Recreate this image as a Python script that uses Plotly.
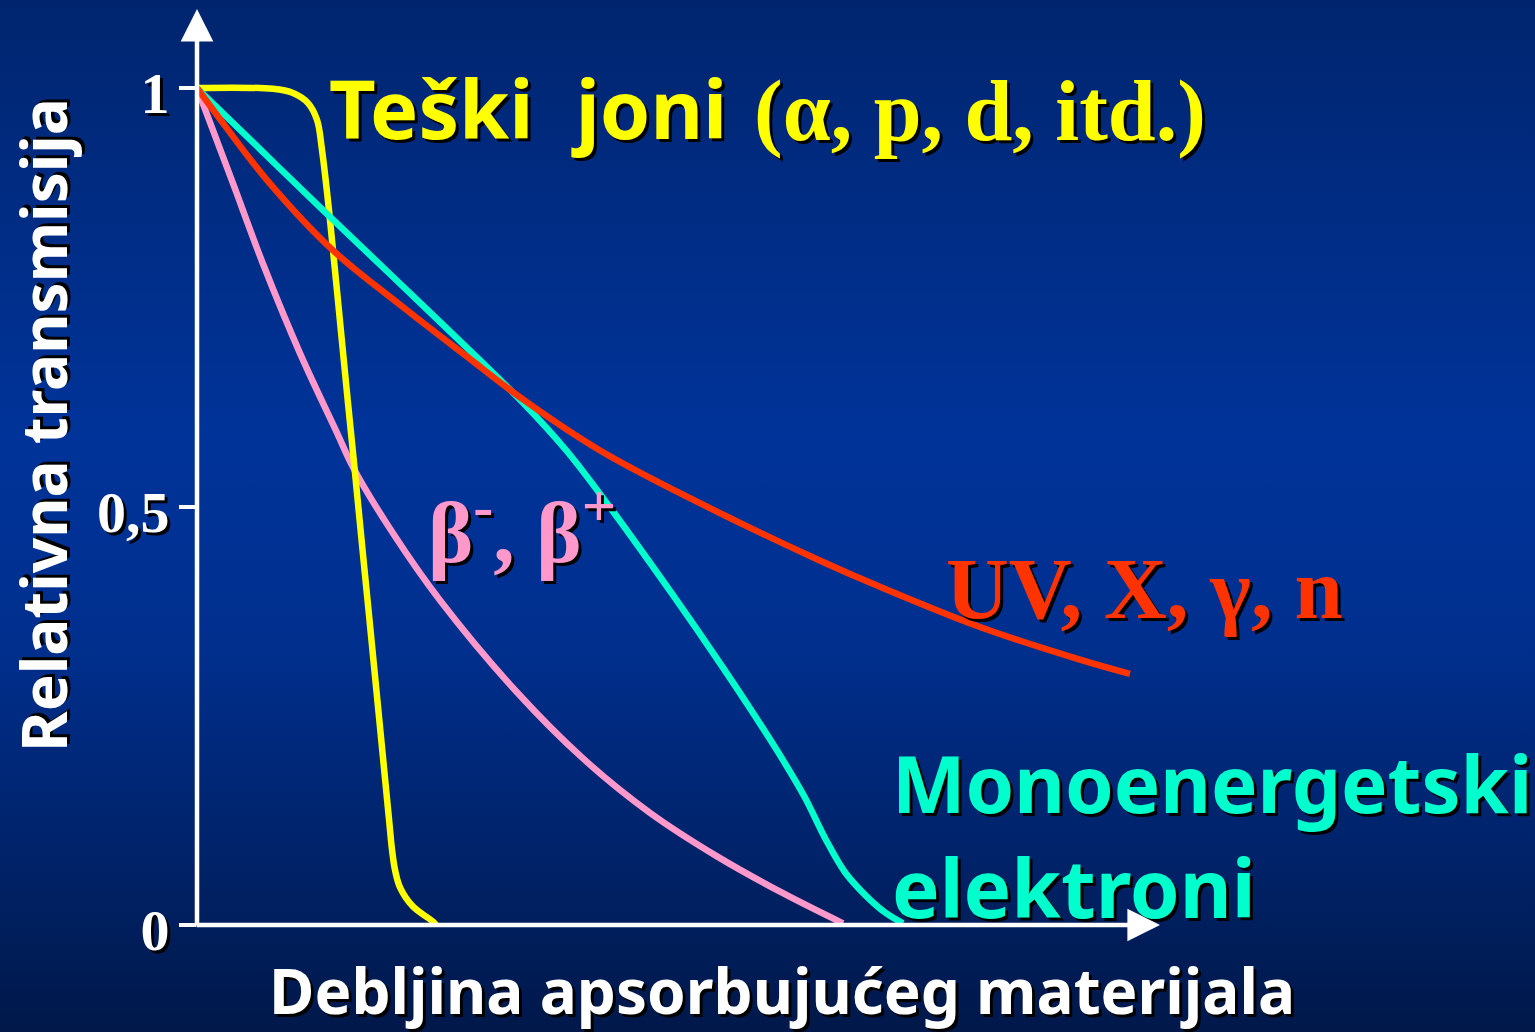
import urllib.parse
import plotly.graph_objects as go

# ---- data (thickness in arbitrary units 0..10, relative transmission 0..1) ----
heavy_x = [0.0, 0.789, 0.997, 1.153, 1.246, 1.298, 1.378, 1.463, 1.565, 1.635, 1.719, 1.771, 1.893, 1.995, 2.025, 2.056, 2.108, 2.243, 2.451, 2.482]
heavy_y = [1.0, 0.999, 0.994, 0.982, 0.962, 0.926, 0.846, 0.747, 0.627, 0.547, 0.448, 0.388, 0.245, 0.125, 0.090, 0.066, 0.045, 0.022, 0.004, 0.0]

mono_x = [0.0, 0.654, 1.308, 2.347, 3.385, 3.842, 4.320, 4.943, 5.400, 5.742, 6.085, 6.314, 6.521, 6.729, 6.937, 7.144, 7.331]
mono_y = [1.0, 0.927, 0.854, 0.740, 0.624, 0.566, 0.494, 0.394, 0.318, 0.259, 0.197, 0.152, 0.104, 0.063, 0.036, 0.015, 0.002]

photon_x = [0.0, 0.270, 0.727, 1.412, 2.108, 2.804, 3.385, 4.185, 5.223, 6.438, 7.092, 8.131, 9.169, 9.688]
photon_y = [1.0, 0.958, 0.890, 0.806, 0.741, 0.679, 0.628, 0.567, 0.504, 0.437, 0.404, 0.356, 0.317, 0.300]

beta_x = [0.0, 0.187, 0.374, 0.685, 1.070, 1.454, 1.620, 2.035, 2.523, 3.323, 4.008, 4.704, 5.400, 6.085, 6.708]
beta_y = [1.0, 0.943, 0.886, 0.790, 0.683, 0.588, 0.547, 0.468, 0.388, 0.278, 0.199, 0.134, 0.082, 0.038, 0.002]

y_tick_values = [0, 0.5, 1]
y_tick_labels = ["0", "0,5", "1"]

x_title = "Debljina apsorbujućeg materijala"
y_title = "Relativna transmisija"

# ---- layout geometry ----
W, H = 1535, 1032
L, R, T, B = 197, 1160, 9, 925          # plot-area pixel box
X_MAX = 10.0
Y_MAX = (B - T) / 837.0                  # 1 unit of transmission = 837 px


def px(xp):
    return (xp - L) / (R - L)


def py(yp):
    return (B - yp) / (B - T)


SERIF = "Liberation Serif, Times New Roman, serif"
SANS = "Noto Sans, DejaVu Sans, sans-serif"
SHADOW = "3px 3px 0px #000000"

YELLOW = "#FFFF00"
CYAN = "#00FFCC"
RED = "#FF3300"
PINK = "#FF99CC"

fig = go.Figure()


def add_curve(x, y, color):
    fig.add_trace(go.Scatter(x=x, y=y, mode="lines",
                             line=dict(color=color, width=6.5, shape="spline", smoothing=1.0),
                             hoverinfo="skip", showlegend=False))


add_curve(beta_x, beta_y, PINK)
add_curve(heavy_x, heavy_y, YELLOW)
add_curve(mono_x, mono_y, CYAN)
add_curve(photon_x, photon_y, RED)

grad_svg = (
    "<svg xmlns='http://www.w3.org/2000/svg' width='10' height='100' preserveAspectRatio='none'>"
    "<defs><linearGradient id='g' x1='0' y1='0' x2='0' y2='1'>"
    "<stop offset='0' stop-color='#00256f'/>"
    "<stop offset='0.42' stop-color='#003399'/>"
    "<stop offset='0.62' stop-color='#002f8e'/>"
    "<stop offset='1' stop-color='#00184a'/>"
    "</linearGradient></defs>"
    "<rect width='10' height='100' fill='url(#g)'/></svg>"
)
grad_uri = "data:image/svg+xml;charset=utf-8," + urllib.parse.quote(grad_svg)

annotations = []


def text(t, xp, yp, color, family, size, xanchor="left", yanchor="middle", angle=0):
    annotations.append(dict(
        text=t, x=px(xp), y=py(yp), xref="paper", yref="paper",
        xanchor=xanchor, yanchor=yanchor, showarrow=False, textangle=angle,
        borderpad=0,
        font=dict(family=family, size=size, color=color, weight="bold", shadow=SHADOW),
    ))


text("Teški  joni", 328, 108, YELLOW, SANS, 81)
text("(α, p, d, itd.)", 753, 111, YELLOW, SERIF, 86)
text("β<sup>-</sup>, β<sup>+</sup>", 427, 526, PINK, SERIF, 86)
text("UV, X, γ, n", 945, 588, RED, SERIF, 87)
text("Monoenergetski", 891, 783, CYAN, SANS, 78)
text("elektroni", 891, 886, CYAN, SANS, 80)
text(x_title, 782, 990, "#FFFFFF", SANS, 62, xanchor="center")
text(y_title, 43, 425, "#FFFFFF", SANS, 62, xanchor="center", angle=-90)

# axis arrows
annotations.append(dict(x=1, y=0, xref="paper", yref="paper", ax=-(R - L) - 2, ay=0,
                        axref="pixel", ayref="pixel", text="", showarrow=True,
                        arrowhead=2, arrowsize=1.45, arrowwidth=4.5, arrowcolor="#FFFFFF", standoff=0))
annotations.append(dict(x=0, y=1, xref="paper", yref="paper", ax=0, ay=(B - T) + 2,
                        axref="pixel", ayref="pixel", text="", showarrow=True,
                        arrowhead=2, arrowsize=1.45, arrowwidth=4.5, arrowcolor="#FFFFFF", standoff=0))

fig.update_layout(
    width=W, height=H,
    margin=dict(l=L, r=W - R, t=T, b=H - B, pad=0),
    paper_bgcolor="#002d88",
    plot_bgcolor="rgba(0,0,0,0)",
    showlegend=False,
    annotations=annotations,
    images=[dict(source=grad_uri, xref="paper", yref="paper",
                 x=px(0), y=py(0), sizex=px(W) - px(0), sizey=py(0) - py(H),
                 xanchor="left", yanchor="top", sizing="stretch", layer="below")],
    xaxis=dict(range=[0, X_MAX], showgrid=False, zeroline=False, showline=False,
               showticklabels=False, ticks="", fixedrange=True),
    yaxis=dict(range=[0, Y_MAX], showgrid=False, zeroline=False, showline=False,
               tickmode="array", tickvals=y_tick_values, ticktext=y_tick_labels,
               ticks="outside", ticklen=17, tickwidth=4, tickcolor="#FFFFFF",
               ticklabelstandoff=-2, ticklabelshift=5,
               tickfont=dict(family=SERIF, size=58, color="#FFFFFF", weight="bold", shadow=SHADOW),
               fixedrange=True),
)

fig.write_html("out.html",
               config={"displayModeBar": False},
               post_script="document.body.style.margin='0px';"
                           "document.documentElement.style.overflow='hidden';")
